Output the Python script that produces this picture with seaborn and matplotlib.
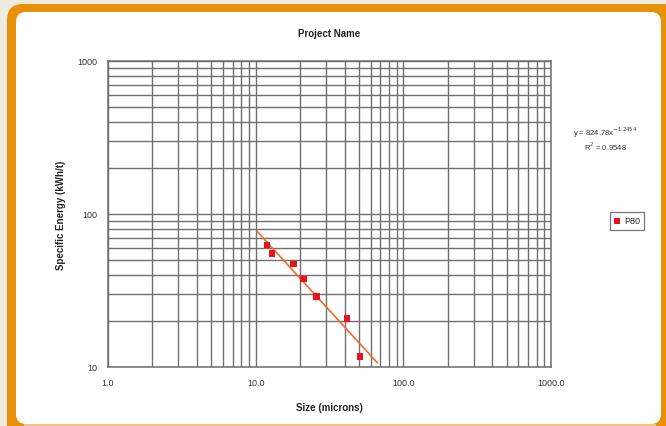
import matplotlib
matplotlib.use("Agg")
from matplotlib import pyplot as plt
from matplotlib.patches import FancyBboxPatch
from matplotlib.transforms import IdentityTransform
from matplotlib.ticker import FixedLocator, FixedFormatter, NullFormatter, LogLocator
import numpy as np
import pandas as pd
import seaborn as sns

# data
size_microns = [11.9, 12.9, 18.1, 21.0, 25.8, 41.7, 50.8]
specific_energy = [62.7, 55.3, 47.1, 37.6, 29.0, 20.8, 11.7]
trend_x_range = [10.2, 66.7]
x_ticks = [1, 10, 100, 1000]
x_tick_labels = ["1.0", "10.0", "100.0", "1000.0"]
y_ticks = [10, 100, 1000]
y_tick_labels = ["10", "100", "1000"]
equation_text = r"y = 824.78x$^{-1.2454}$"
r2_text = r"R$^{2}$ = 0.9548"
series_name = "P80"

df = pd.DataFrame({"size": size_microns, "energy": specific_energy, "series": series_name})

# power trendline fitted from the points (like excel)
slope, intercept = np.polyfit(np.log10(size_microns), np.log10(specific_energy), 1)
trend = pd.DataFrame({"size": trend_x_range})
trend["energy"] = 10 ** intercept * trend["size"] ** slope

sns.set_style("white")
plt.rcParams["font.family"] = ["Liberation Sans", "DejaVu Sans"]

W, H = 666, 427
fig = plt.figure(figsize=(W / 100, H / 100), dpi=100)
fig.patch.set_facecolor("#efecdd")


def px_box(x0, y0, x1, y1, r, color, z):
    # pixel coords measured from the top-left of the image
    p = FancyBboxPatch((x0, H - y1), x1 - x0, y1 - y0,
                       boxstyle="round,pad=0,rounding_size=%d" % r,
                       transform=IdentityTransform(), facecolor=color,
                       edgecolor="none", zorder=z)
    fig.patches.append(p)


# orange frame with white panel inside (drawn below the axes)
px_box(7, 5, 680, 460, 16, "#e8900a", -3)
px_box(16, 13, 661, 425, 10, "#ffffff", -2)
fig.patches.append(plt.Rectangle((24, H - 426.5), 632, 1.5, transform=IdentityTransform(),
                                 facecolor="#f8c27a", edgecolor="none", zorder=-1))

ax = fig.add_axes([108 / W, (H - 368) / H, (551 - 108) / W, (368 - 62) / H])
ax.set_facecolor("white")

sns.lineplot(data=trend, x="size", y="energy", color="#f26b2a", linewidth=1.2, ax=ax, zorder=3)
sns.scatterplot(data=df, x="size", y="energy", color="#e8141c", marker="s", s=22,
                edgecolor="none", ax=ax, zorder=4, label=series_name)

ax.set_xscale("log")
ax.set_yscale("log")
ax.set_xlim(1, 1000)
ax.set_ylim(10, 1000)

ax.xaxis.set_major_locator(FixedLocator(x_ticks))
ax.xaxis.set_major_formatter(FixedFormatter(x_tick_labels))
ax.yaxis.set_major_locator(FixedLocator(y_ticks))
ax.yaxis.set_major_formatter(FixedFormatter(y_tick_labels))
for axis in (ax.xaxis, ax.yaxis):
    axis.set_minor_locator(LogLocator(base=10, subs=np.arange(2, 10)))
    axis.set_minor_formatter(NullFormatter())

ax.grid(which="both", color="#707070", linewidth=1.0)
ax.set_axisbelow(True)
ax.tick_params(which="major", length=4, width=1, color="#6e6e6e", labelsize=6.5,
               labelcolor="#333333", pad=4)
ax.tick_params(which="minor", length=0)
for sp in ax.spines.values():
    sp.set_color("#6e6e6e")
    sp.set_linewidth(1.1)

ax.set_xlabel("Size (microns)", fontsize=7, fontweight="bold", color="#222222", labelpad=11)
ax.set_ylabel("Specific Energy (kWh/t)", fontsize=7, fontweight="bold", color="#222222", labelpad=8)
ax.set_title("Project Name", fontsize=7, fontweight="bold", color="#222222", pad=18)

fig.text(605 / W, 1 - 133 / H, equation_text, fontsize=5.5, ha="center", va="center", color="#333333")
fig.text(605 / W, 1 - 147 / H, r2_text, fontsize=5.5, ha="center", va="center", color="#333333")

leg = ax.legend(loc="center", bbox_to_anchor=(627 / W, 1 - 222 / H),
                bbox_transform=fig.transFigure, fontsize=6.5, frameon=True,
                fancybox=False, handlelength=0.8, handletextpad=0.4,
                borderpad=0.45, markerscale=0.9)
leg.get_frame().set_edgecolor("#555555")
leg.get_frame().set_linewidth(0.9)

fig.savefig("out.png", dpi=100, facecolor=fig.get_facecolor())
